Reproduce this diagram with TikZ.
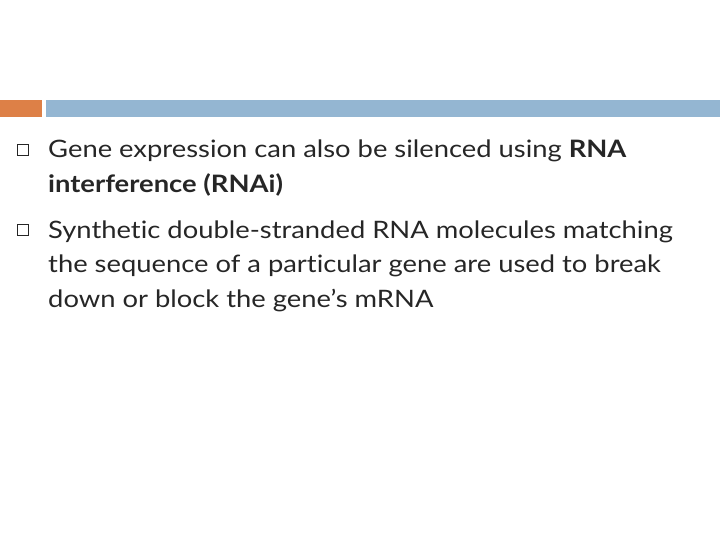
\documentclass[tikz,border=0pt]{standalone}
\usepackage{fontspec}
\setmainfont{Lato}[FakeStretch=1.14,Ligatures={NoCommon,NoRare,NoContextual}]
\definecolor{barorange}{HTML}{DD8047}
\definecolor{barblue}{HTML}{94B6D2}
\definecolor{txt}{HTML}{262626}
\begin{document}
\begin{tikzpicture}[x=1pt,y=-1pt,
  line/.style={anchor=base west,inner sep=0pt,font=\fontsize{24}{28}\selectfont,text=txt},
  bul/.style={draw=txt,line width=0.6pt,minimum size=11pt,inner sep=0pt}]
\useasboundingbox (0,0) rectangle (720,540);
\fill[barorange] (0,100) rectangle (42,117);
\fill[barblue] (46,100) rectangle (720,117);
\node[bul] (b1) at (22.5,150) {};
\node[bul] (b2) at (22.5,230) {};
\node[line] (l1) at (48,158) {Gene expression can also be silenced using \textbf{RNA}};
\node[line] (l2) at (48,193) {\textbf{interference (RNAi)}};
\node[line] (l3) at (48,238) {Synthetic double-stranded RNA molecules matching};
\node[line] (l4) at (48,272) {the sequence of a particular gene are used to break};
\node[line] (l5) at (48,307) {down or block the gene’s mRNA};
\end{tikzpicture}
\end{document}
